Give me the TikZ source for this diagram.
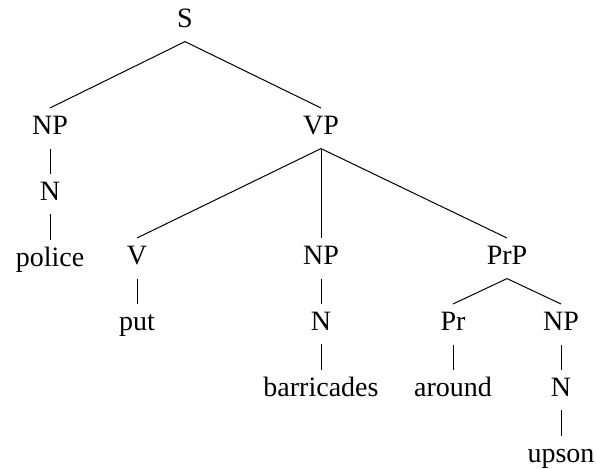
\documentclass[tikz,border=0pt]{standalone}
\usepackage{fontspec}
\setmainfont{Liberation Serif}
\usetikzlibrary{positioning}
\tikzstyle{cat} = [inner xsep=1pt, inner ysep=3.5pt, text height=9.8pt, text depth=3.1pt, font=\fontsize{14}{17}\selectfont]
\tikzstyle{word} = [cat]
\tikzstyle{branch} = [line width=0.5pt]

\begin{document}
\begin{tikzpicture}[x=0.5pt, y=-0.5pt, node distance=12.6pt]
    \useasboundingbox (0,0) rectangle (596,469);
    \node (s) [cat, anchor=base] at (185,28) {S};
    \node (np subj) [cat, anchor=base] at (50,135) {NP};
    \node (vp) [cat, anchor=base] at (321,135) {VP};
    \node (n subj) [cat, below=of np subj] {N};
    \node (police) [word, below=of n subj] {police};
    \node (v) [cat, anchor=base] at (137,265) {V};
    \node (put) [word, below=of v] {put};
    \node (np obj) [cat, anchor=base] at (321,265) {NP};
    \node (n obj) [cat, below=of np obj] {N};
    \node (barricades) [word, below=of n obj] {barricades};
    \node (prp) [cat, anchor=base] at (507,265) {PrP};
    \node (pr) [cat, anchor=base] at (453,331) {Pr};
    \node (around) [word, below=of pr] {around};
    \node (np pr) [cat, anchor=base] at (561,331) {NP};
    \node (n pr) [cat, below=of np pr] {N};
    \node (upson) [word, below=of n pr] {upson};

    % Branches.
    \draw [branch] (s.south) -- (np subj.north);
    \draw [branch] (s.south) -- (vp.north);
    \draw [branch] (np subj) -- (n subj);
    \draw [branch] (n subj) -- (police);
    \draw [branch] (vp.south) -- (v.north);
    \draw [branch] (vp) -- (np obj);
    \draw [branch] (vp.south) -- (prp.north);
    \draw [branch] (v) -- (put);
    \draw [branch] (np obj) -- (n obj);
    \draw [branch] (n obj) -- (barricades);
    \draw [branch] (prp.south) -- (pr.north);
    \draw [branch] (prp.south) -- (np pr.north);
    \draw [branch] (pr) -- (around);
    \draw [branch] (np pr) -- (n pr);
    \draw [branch] (n pr) -- (upson);
\end{tikzpicture}
\end{document}
